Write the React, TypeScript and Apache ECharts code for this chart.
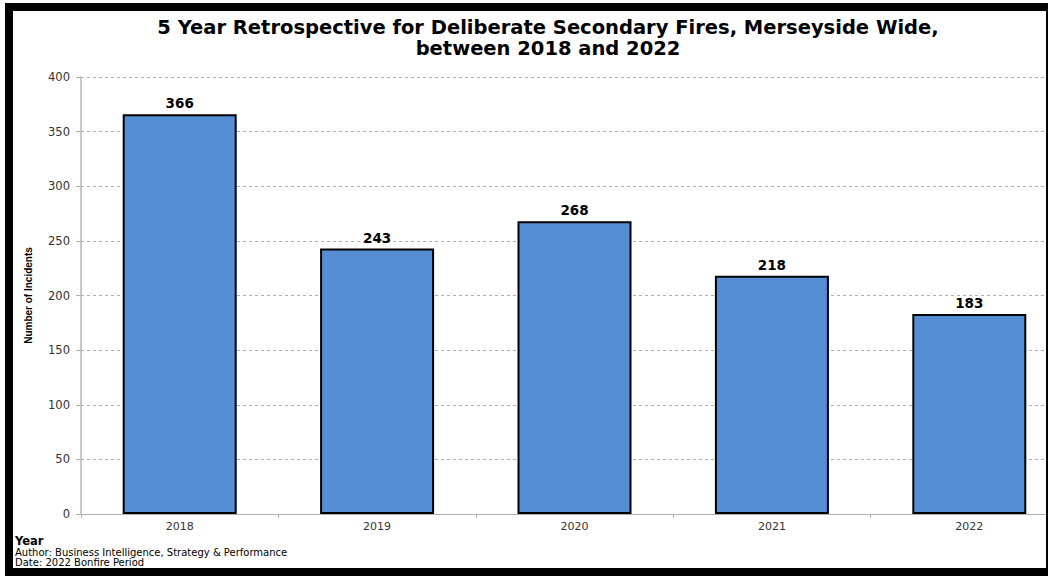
import React, { useEffect, useRef } from "react";
import * as echarts from "echarts";

const categories = ["2018", "2019", "2020", "2021", "2022"];
const incidents = [366, 243, 268, 218, 183];
const yTicks = { min: 0, max: 400, interval: 50 };
const titleText = "5 Year Retrospective for Deliberate Secondary Fires, Merseyside Wide,\nbetween 2018 and 2022";
const footerLines = ["Author: Business Intelligence, Strategy & Performance", "Date: 2022 Bonfire Period"];

export default function App() {
  const ref = useRef<HTMLDivElement>(null);
  useEffect(() => {
    if (!ref.current) return;
    const chart = echarts.init(ref.current, null, { renderer: "svg" });
    chart.setOption({
      animation: false,
      backgroundColor: "#ffffff",
      title: {
        text: titleText,
        left: 543,
        textAlign: "center",
        top: 12,
        textStyle: {
          fontFamily: "DejaVu Sans",
          fontWeight: "bold",
          fontSize: 19.5,
          lineHeight: 21,
          color: "#000",
        },
      },
      grid: {
        left: 81,
        top: 77,
        width: 987,
        height: 437,
        containLabel: false,
        outerBoundsMode: "none",
      },
      xAxis: {
        type: "category",
        data: categories,
        axisLine: { lineStyle: { color: "#b0b0b0", width: 1 } },
        axisTick: { show: true, alignWithLabel: false, length: 4, lineStyle: { color: "#b0b0b0" } },
        axisLabel: { color: "#333", fontFamily: "DejaVu Sans", fontSize: 11, margin: 7 },
      },
      yAxis: {
        type: "value",
        min: yTicks.min,
        max: yTicks.max,
        interval: yTicks.interval,
        name: "Number of Incidents",
        nameLocation: "middle",
        nameGap: 48,
        nameRotate: 90,
        nameTextStyle: {
          fontFamily: "Liberation Sans",
          fontWeight: "bold",
          fontSize: 10,
          color: "#000",
        },
        axisLine: { show: true, lineStyle: { color: "#b8b8b8", width: 1.5 } },
        axisTick: { show: true, length: 5, lineStyle: { color: "#b0b0b0" } },
        axisLabel: { color: "#333", fontFamily: "DejaVu Sans", fontSize: 11.5, margin: 11 },
        splitLine: { lineStyle: { color: "#b0b0b0", type: [3, 3], width: 1 } },
      },
      series: [
        {
          type: "bar",
          data: incidents,
          barWidth: 114,
          itemStyle: { color: "#558ed5", borderColor: "#000", borderWidth: 2 },
          label: {
            show: true,
            position: "top",
            distance: 4,
            fontFamily: "DejaVu Sans",
            fontWeight: "bold",
            fontSize: 13.5,
            color: "#000",
          },
        },
      ],
      graphic: [
        {
          type: "text",
          left: 15,
          top: 535,
          style: { text: "Year", fontFamily: "DejaVu Sans", fontWeight: "bold", fontSize: 11.5, fill: "#000" },
        },
        {
          type: "text",
          left: 15,
          top: 547,
          style: {
            text: footerLines.join("\n"),
            fontFamily: "DejaVu Sans",
            fontSize: 10,
            lineHeight: 10,
            fill: "#000",
          },
        },
        {
          type: "rect",
          silent: true,
          z: 100,
          shape: { x: 9, y: 7, width: 1041, height: 565 },
          style: { fill: "none", stroke: "#000", lineWidth: 8 },
        },
      ],
    });
    return () => chart.dispose();
  }, []);
  return (
    <div style={{ position: "absolute", left: 0, top: 0, width: 1048, height: 578, background: "#fff" }}>
      <div ref={ref} style={{ width: 1048, height: 578 }} />
    </div>
  );
}
